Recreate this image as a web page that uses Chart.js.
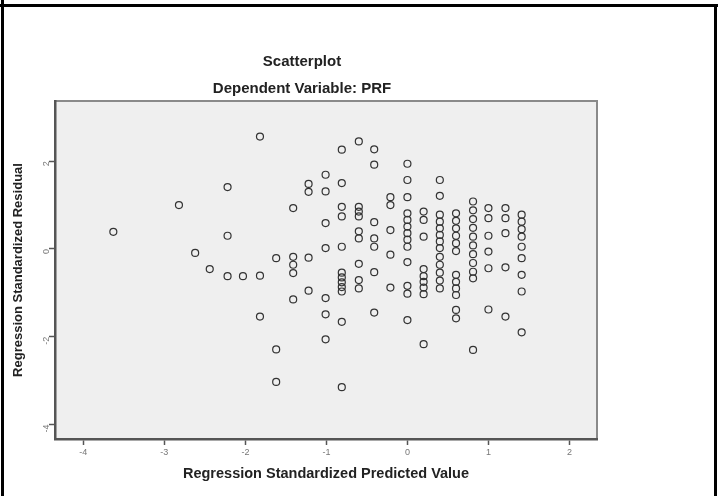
<!DOCTYPE html>
<html>
<head>
<meta charset="utf-8">
<script src="https://cdn.jsdelivr.net/npm/chart.js@4.4.1/dist/chart.umd.min.js"></script>
<style>
  html, body { margin: 0; padding: 0; background: #fff; }
  #wrap { position: relative; width: 718px; height: 496px; overflow: hidden; }
  #chart { position: absolute; left: 0; top: 0; }
  .rule { position: absolute; background: #000; }
</style>
</head>
<body>
<div id="wrap">
  <canvas id="chart" width="718" height="496"></canvas>
  <div class="rule" style="left:0;top:4px;width:718px;height:3px"></div>
  <div class="rule" style="left:1px;top:0;width:3px;height:496px"></div>
  <div class="rule" style="left:714px;top:4px;width:3px;height:492px"></div>
</div>
<script>
// Regression standardized predicted value (x) and standardized residual (y)
const predicted = [
  -3.63, -2.82, -2.62, -2.44, -2.22, -2.22, -2.22, -2.03,
  -1.82, -1.82, -1.82, -1.62, -1.62, -1.62,
  -1.41, -1.41, -1.41, -1.41, -1.41,
  -1.22, -1.22, -1.22, -1.22,
  -1.01, -1.01, -1.01, -1.01, -1.01, -1.01, -1.01,
  -0.81, -0.81, -0.81, -0.81, -0.81, -0.81, -0.81, -0.81, -0.81, -0.81, -0.81, -0.81,
  -0.60, -0.60, -0.60, -0.60, -0.60, -0.60, -0.60, -0.60, -0.60,
  -0.41, -0.41, -0.41, -0.41, -0.41, -0.41, -0.41,
  -0.21, -0.21, -0.21, -0.21, -0.21,
  0, 0, 0, 0, 0, 0, 0, 0, 0, 0, 0, 0, 0,
  0.20, 0.20, 0.20, 0.20, 0.20, 0.20, 0.20, 0.20, 0.20,
  0.40, 0.40, 0.40, 0.40, 0.40, 0.40, 0.40, 0.40, 0.40, 0.40, 0.40, 0.40, 0.40,
  0.60, 0.60, 0.60, 0.60, 0.60, 0.60, 0.60, 0.60, 0.60, 0.60, 0.60, 0.60,
  0.81, 0.81, 0.81, 0.81, 0.81, 0.81, 0.81, 0.81, 0.81, 0.81, 0.81,
  1.0, 1.0, 1.0, 1.0, 1.0, 1.0,
  1.21, 1.21, 1.21, 1.21, 1.21,
  1.41, 1.41, 1.41, 1.41, 1.41, 1.41, 1.41, 1.41, 1.41
]
const residual = [
  0.39, 1.00, -0.09, -0.46, 1.41, 0.30, -0.62, -0.62,
  2.56, -0.61, -1.54, -0.21, -2.29, -3.03,
  0.93, -0.18, -0.36, -0.55, -1.15,
  1.48, 1.30, -0.20, -0.95,
  1.69, 1.31, 0.59, 0.02, -1.12, -1.49, -2.06,
  2.26, 1.50, 0.96, 0.74, 0.05, -0.54, -0.65, -0.76, -0.87, -0.97, -1.66, -3.15,
  2.45, 0.96, 0.85, 0.74, 0.40, 0.24, -0.34, -0.71, -0.90,
  2.27, 1.92, 0.61, 0.24, 0.05, -0.53, -1.45,
  1.18, 1.00, 0.43, -0.13, -0.88,
  1.94, 1.57, 1.18, 0.81, 0.66, 0.51, 0.36, 0.21, 0.05, -0.30, -0.84, -1.02, -1.62,
  0.85, 0.66, 0.28, -0.46, -0.62, -0.75, -0.88, -1.03, -2.17,
  1.57, 1.21, 0.78, 0.62, 0.47, 0.32, 0.17, 0.02, -0.18, -0.36, -0.54, -0.72, -0.90,
  0.81, 0.64, 0.47, 0.30, 0.13, -0.05, -0.59, -0.75, -0.90, -1.05, -1.39, -1.58,
  1.08, 0.88, 0.68, 0.48, 0.28, 0.08, -0.12, -0.32, -0.52, -0.67, -2.30,
  0.93, 0.70, 0.30, -0.06, -0.44, -1.38,
  0.93, 0.70, 0.36, -0.42, -1.54,
  0.78, 0.62, 0.45, 0.28, 0.05, -0.21, -0.59, -0.97, -1.90
]

const xTicks = [-4, -3, -2, -1, 0, 1, 2]
const yTicks = [-4, -2, 0, 2]

const points = predicted.map((x, i) => ({ x: x, y: residual[i] }))

// gray plot panel with a thin frame on top and right
const panel = {
  id: 'panel',
  beforeDraw(chart) {
    const { ctx, chartArea: a } = chart
    ctx.save()
    ctx.fillStyle = '#efefef'
    ctx.fillRect(a.left, a.top, a.right - a.left, a.bottom - a.top)
    ctx.strokeStyle = '#8a8a8a'
    ctx.lineWidth = 2
    ctx.beginPath()
    ctx.moveTo(a.left, a.top)
    ctx.lineTo(a.right, a.top)
    ctx.lineTo(a.right, a.bottom)
    ctx.stroke()
    ctx.restore()
  },
}

const tickFont = { family: 'Liberation Sans', size: 9 }
const titleFont = { family: 'Liberation Sans', size: 15, weight: 'bold' }

new Chart(document.getElementById('chart'), {
  type: 'scatter',
  data: {
    datasets: [
      {
        data: points,
        pointStyle: 'circle',
        pointRadius: 3.5,
        pointHoverRadius: 3.5,
        pointBorderWidth: 1.2,
        pointBorderColor: '#333',
        pointBackgroundColor: 'rgba(0,0,0,0)',
      },
    ],
  },
  options: {
    responsive: false,
    animation: false,
    layout: { padding: { left: 7, right: 121, top: 0, bottom: 12 } },
    plugins: {
      legend: { display: false },
      tooltip: { enabled: false },
      title: {
        display: true,
        text: 'Scatterplot',
        color: '#222',
        font: titleFont,
        padding: { top: 53, bottom: 2 },
      },
      subtitle: {
        display: true,
        text: 'Dependent Variable: PRF',
        color: '#222',
        font: titleFont,
        padding: { top: 7, bottom: 3 },
      },
    },
    scales: {
      x: {
        type: 'linear',
        min: -4.35,
        max: 2.34,
        afterBuildTicks: (s) => { s.ticks = xTicks.map((v) => ({ value: v })) },
        afterFit: (s) => { s.height = 45 },
        grid: { display: true, drawOnChartArea: false, tickLength: 6, tickWidth: 1.5, tickColor: '#555' },
        border: { display: true, color: '#555', width: 2.5 },
        ticks: { color: '#777', font: tickFont, padding: 2, maxRotation: 0 },
        title: {
          display: true,
          text: 'Regression Standardized Predicted Value',
          color: '#222',
          font: { family: 'Liberation Sans', size: 14.5, weight: 'bold' },
          padding: { top: 0, bottom: 1.3 },
        },
      },
      y: {
        type: 'linear',
        min: -4.33,
        max: 3.37,
        afterBuildTicks: (s) => { s.ticks = yTicks.map((v) => ({ value: v })) },
        afterFit: (s) => { s.width = 48 },
        grid: { display: true, drawOnChartArea: false, tickLength: 6, tickWidth: 1.5, tickColor: '#555' },
        border: { display: true, color: '#555', width: 2.5 },
        ticks: { color: '#777', font: tickFont, padding: 2, minRotation: 90, maxRotation: 90 },
        title: {
          display: true,
          text: 'Regression Standardized Residual',
          color: '#222',
          font: { family: 'Liberation Sans', size: 13, weight: 'bold' },
          padding: { top: 3.2, bottom: 0 },
        },
      },
    },
  },
  plugins: [panel],
})
</script>
</body>
</html>
